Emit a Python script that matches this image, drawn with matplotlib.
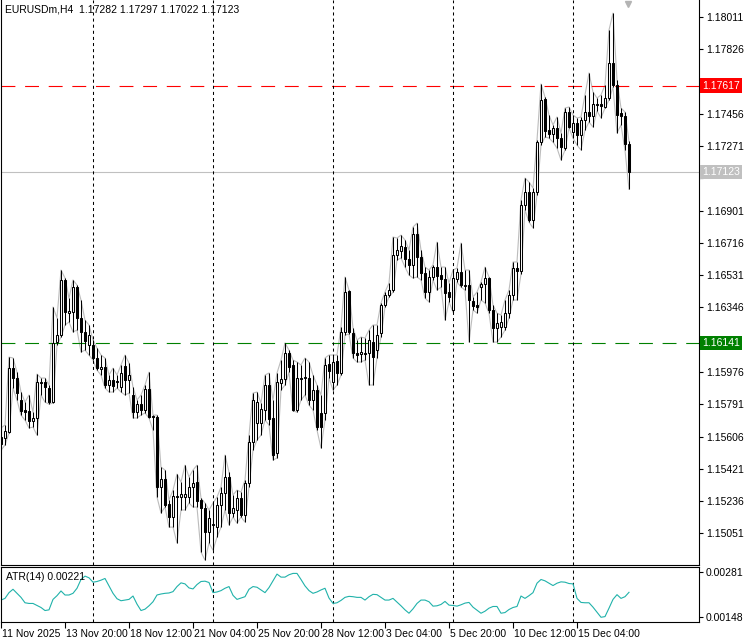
import numpy as np
import matplotlib
matplotlib.use("Agg")
import matplotlib.pyplot as plt
import matplotlib.transforms as mtransforms

plt.rcParams['font.family'] = ['Liberation Sans', 'DejaVu Sans']
plt.rcParams['lines.scale_dashes'] = False

# EURUSDm H4 bars, 11 Nov 04:00 .. 17 Dec 08:00
opens = [1.15603, 1.15597, 1.15632, 1.15998, 1.15941, 1.15815, 1.15758, 1.15752, 1.15695, 1.15712,
         1.15912, 1.15918, 1.15884, 1.15803, 1.16147, 1.16187, 1.16503, 1.16313, 1.16319, 1.16462,
         1.16285, 1.16205, 1.16130, 1.16130, 1.16056, 1.15993, 1.16004, 1.15901, 1.15930, 1.15924,
         1.15889, 1.16010, 1.15930, 1.15844, 1.15746, 1.15792, 1.15758, 1.15878, 1.15723, 1.15718,
         1.15316, 1.15362, 1.15219, 1.15145, 1.15265, 1.15259, 1.15259, 1.15259, 1.15316, 1.15345,
         1.15242, 1.15196, 1.15059, 1.15099, 1.15087, 1.15213, 1.15282, 1.15374, 1.15168, 1.15185,
         1.15253, 1.15156, 1.15339, 1.15574, 1.15683, 1.15683, 1.15758, 1.15901, 1.15712, 1.15511,
         1.15912, 1.15935, 1.16084, 1.16016, 1.15758, 1.15941, 1.15941, 1.15941, 1.15815, 1.15872,
         1.15741, 1.15741, 1.16021, 1.15918, 1.16038, 1.15970, 1.16205, 1.16440, 1.16199, 1.16084,
         1.16079, 1.16084, 1.16084, 1.16147, 1.16101, 1.16199, 1.16359, 1.16417, 1.16445, 1.16646,
         1.16669, 1.16692, 1.16623, 1.16589, 1.16766, 1.16634, 1.16543, 1.16434, 1.16520, 1.16577,
         1.16531, 1.16508, 1.16434, 1.16331, 1.16508, 1.16548, 1.16468, 1.16474, 1.16382, 1.16359,
         1.16462, 1.16480, 1.16514, 1.16331, 1.16228, 1.16233, 1.16233, 1.16313, 1.16417, 1.16571,
         1.16554, 1.16932, 1.17007, 1.16846, 1.17007, 1.17293, 1.17540, 1.17362, 1.17339, 1.17374,
         1.17316, 1.17259, 1.17465, 1.17351, 1.17402, 1.17333, 1.17419, 1.17465, 1.17442, 1.17511,
         1.17511, 1.17494, 1.17545, 1.17746, 1.17620, 1.17459, 1.17442, 1.17282]
highs = [1.15655, 1.15672, 1.16061, 1.16056, 1.15975, 1.15861, 1.15803, 1.15844, 1.15746, 1.15964,
         1.15941, 1.15941, 1.15901, 1.16348, 1.16285, 1.16560, 1.16514, 1.16399, 1.16503, 1.16474,
         1.16388, 1.16273, 1.16245, 1.16159, 1.16113, 1.16073, 1.16056, 1.15958, 1.15998, 1.15958,
         1.16016, 1.16073, 1.16027, 1.15889, 1.15815, 1.15844, 1.15901, 1.15975, 1.15729, 1.15729,
         1.15431, 1.15414, 1.15242, 1.15299, 1.15391, 1.15345, 1.15442, 1.15374, 1.15414, 1.15442,
         1.15253, 1.15225, 1.15185, 1.15225, 1.15259, 1.15316, 1.15500, 1.15402, 1.15271, 1.15299,
         1.15288, 1.15357, 1.15614, 1.15855, 1.15861, 1.15798, 1.15958, 1.15970, 1.15815, 1.15970,
         1.16044, 1.16142, 1.16101, 1.16044, 1.16033, 1.16016, 1.16056, 1.16033, 1.15958, 1.15901,
         1.15844, 1.16056, 1.16073, 1.16073, 1.16073, 1.16233, 1.16520, 1.16445, 1.16228, 1.16159,
         1.16176, 1.16170, 1.16216, 1.16245, 1.16245, 1.16371, 1.16434, 1.16485, 1.16749, 1.16743,
         1.16760, 1.16732, 1.16675, 1.16806, 1.16829, 1.16675, 1.16577, 1.16560, 1.16589, 1.16720,
         1.16577, 1.16577, 1.16485, 1.16560, 1.16571, 1.16715, 1.16560, 1.16560, 1.16405, 1.16434,
         1.16491, 1.16577, 1.16520, 1.16359, 1.16313, 1.16302, 1.16388, 1.16445, 1.16606, 1.16606,
         1.16961, 1.17087, 1.17064, 1.17030, 1.17305, 1.17626, 1.17551, 1.17448, 1.17391, 1.17437,
         1.17345, 1.17488, 1.17494, 1.17448, 1.17431, 1.17437, 1.17563, 1.17689, 1.17580, 1.17545,
         1.17563, 1.17620, 1.17935, 1.18032, 1.17649, 1.17488, 1.17465, 1.17297]
lows = [1.15528, 1.15557, 1.15626, 1.15884, 1.15815, 1.15729, 1.15700, 1.15655, 1.15660, 1.15614,
        1.15844, 1.15803, 1.15792, 1.15798, 1.16130, 1.16176, 1.16245, 1.16262, 1.16205, 1.16216,
        1.16090, 1.16101, 1.16073, 1.16044, 1.15987, 1.15958, 1.15884, 1.15861, 1.15861, 1.15884,
        1.15861, 1.15844, 1.15855, 1.15712, 1.15712, 1.15729, 1.15741, 1.15712, 1.15643, 1.15259,
        1.15168, 1.15202, 1.15087, 1.15087, 1.14996, 1.15185, 1.15185, 1.15225, 1.15202, 1.15202,
        1.14944, 1.14898, 1.14996, 1.14955, 1.15030, 1.15087, 1.15185, 1.15099, 1.15145, 1.15110,
        1.15145, 1.15116, 1.15316, 1.15529, 1.15586, 1.15614, 1.15700, 1.15672, 1.15471, 1.15483,
        1.15872, 1.15901, 1.15975, 1.15752, 1.15746, 1.15815, 1.15844, 1.15786, 1.15758, 1.15643,
        1.15540, 1.15700, 1.15941, 1.15872, 1.15901, 1.15958, 1.16187, 1.16193, 1.16056, 1.16033,
        1.16033, 1.16044, 1.15901, 1.15901, 1.16056, 1.16176, 1.16348, 1.16405, 1.16434, 1.16617,
        1.16629, 1.16577, 1.16531, 1.16514, 1.16520, 1.16503, 1.16399, 1.16377, 1.16503, 1.16445,
        1.16462, 1.16273, 1.16377, 1.16319, 1.16491, 1.16462, 1.16445, 1.16147, 1.16331, 1.16313,
        1.16388, 1.16371, 1.16313, 1.16147, 1.16147, 1.16176, 1.16216, 1.16285, 1.16388, 1.16388,
        1.16537, 1.16904, 1.16835, 1.16801, 1.16990, 1.17276, 1.17322, 1.17316, 1.17293, 1.17259,
        1.17190, 1.17247, 1.17374, 1.17316, 1.17276, 1.17247, 1.17362, 1.17408, 1.17379, 1.17471,
        1.17431, 1.17488, 1.17534, 1.17608, 1.17345, 1.17391, 1.17247, 1.17022]
closes = [1.15563, 1.15637, 1.15998, 1.15941, 1.15855, 1.15752, 1.15746, 1.15695, 1.15712, 1.15918,
          1.15918, 1.15889, 1.15803, 1.16142, 1.16187, 1.16503, 1.16319, 1.16325, 1.16462, 1.16285,
          1.16205, 1.16153, 1.16187, 1.16056, 1.15998, 1.16004, 1.15901, 1.15930, 1.15895, 1.15918,
          1.15970, 1.15930, 1.15958, 1.15746, 1.15792, 1.15758, 1.15878, 1.15718, 1.15718, 1.15316,
          1.15362, 1.15213, 1.15145, 1.15265, 1.15259, 1.15276, 1.15276, 1.15316, 1.15339, 1.15236,
          1.15196, 1.15059, 1.15139, 1.15104, 1.15213, 1.15282, 1.15374, 1.15168, 1.15196, 1.15253,
          1.15156, 1.15339, 1.15574, 1.15815, 1.15803, 1.15763, 1.15901, 1.15706, 1.15500, 1.15918,
          1.15935, 1.16084, 1.16004, 1.15758, 1.15941, 1.15935, 1.15947, 1.15815, 1.15872, 1.15660,
          1.15660, 1.16016, 1.15981, 1.16033, 1.15970, 1.16205, 1.16434, 1.16205, 1.16084, 1.16073,
          1.16090, 1.16079, 1.16159, 1.16061, 1.16187, 1.16359, 1.16417, 1.16445, 1.16646, 1.16675,
          1.16697, 1.16623, 1.16589, 1.16766, 1.16634, 1.16543, 1.16434, 1.16520, 1.16577, 1.16525,
          1.16508, 1.16428, 1.16405, 1.16514, 1.16548, 1.16474, 1.16474, 1.16388, 1.16354, 1.16348,
          1.16480, 1.16514, 1.16331, 1.16228, 1.16256, 1.16262, 1.16313, 1.16417, 1.16571, 1.16554,
          1.16932, 1.17007, 1.16846, 1.17007, 1.17293, 1.17534, 1.17356, 1.17339, 1.17374, 1.17316,
          1.17265, 1.17465, 1.17379, 1.17402, 1.17333, 1.17419, 1.17465, 1.17442, 1.17511, 1.17505,
          1.17500, 1.17545, 1.17746, 1.17620, 1.17448, 1.17442, 1.17282, 1.17123]

atr = [0.00198, 0.00203, 0.00220, 0.00230, 0.00218, 0.00206, 0.00190, 0.00188, 0.00188, 0.00182,
       0.00176, 0.00167, 0.00169, 0.00200, 0.00211, 0.00225, 0.00213, 0.00213, 0.00218, 0.00233,
       0.00259, 0.00269, 0.00264, 0.00251, 0.00253, 0.00257, 0.00262, 0.00240, 0.00218, 0.00202,
       0.00196, 0.00198, 0.00200, 0.00210, 0.00186, 0.00167, 0.00171, 0.00181, 0.00193, 0.00213,
       0.00216, 0.00218, 0.00219, 0.00223, 0.00238, 0.00249, 0.00246, 0.00234, 0.00231, 0.00244,
       0.00253, 0.00254, 0.00250, 0.00220, 0.00222, 0.00226, 0.00233, 0.00238, 0.00212, 0.00200,
       0.00204, 0.00208, 0.00230, 0.00238, 0.00236, 0.00228, 0.00220, 0.00235, 0.00255, 0.00275,
       0.00266, 0.00266, 0.00273, 0.00277, 0.00277, 0.00259, 0.00240, 0.00226, 0.00218, 0.00222,
       0.00228, 0.00233, 0.00204, 0.00188, 0.00190, 0.00197, 0.00206, 0.00209, 0.00208, 0.00206,
       0.00206, 0.00198, 0.00208, 0.00215, 0.00214, 0.00206, 0.00198, 0.00198, 0.00203, 0.00192,
       0.00181, 0.00169, 0.00159, 0.00172, 0.00188, 0.00198, 0.00198, 0.00193, 0.00180, 0.00181,
       0.00185, 0.00194, 0.00183, 0.00182, 0.00180, 0.00184, 0.00189, 0.00191, 0.00177, 0.00168,
       0.00159, 0.00165, 0.00174, 0.00179, 0.00179, 0.00159, 0.00161, 0.00170, 0.00176, 0.00179,
       0.00210, 0.00203, 0.00211, 0.00220, 0.00248, 0.00259, 0.00255, 0.00248, 0.00241, 0.00248,
       0.00252, 0.00251, 0.00247, 0.00246, 0.00203, 0.00191, 0.00190, 0.00190, 0.00177, 0.00162,
       0.00147, 0.00149, 0.00174, 0.00200, 0.00214, 0.00203, 0.00208, 0.00221]

price_ticks = [1.15051, 1.15236, 1.15421, 1.15606, 1.15791, 1.15976, 1.16161, 1.16346, 1.16531,
               1.16716, 1.16901, 1.17086, 1.17271, 1.17456, 1.17641, 1.17826, 1.18011]
atr_ticks = [0.00148, 0.00281]
date_pos = [0, 16, 32, 48, 64, 80, 96, 112, 128, 144]
date_labels = ['11 Nov 2025', '13 Nov 20:00', '18 Nov 12:00', '21 Nov 04:00', '25 Nov 20:00',
               '28 Nov 12:00', '3 Dec 04:00', '5 Dec 20:00', '10 Dec 12:00', '15 Dec 04:00']
week_starts = [23, 53, 83, 113, 143]   # Monday 00:00 bars

red_level = 1.17617
green_level = 1.16141
bid = 1.17123

W, H = 750, 644
fig = plt.figure(figsize=(W / 100, H / 100), dpi=100)
ax = fig.add_axes([1 / W, (H - 565) / H, 698 / W, 565 / H])
ax2 = fig.add_axes([1 / W, 22 / H, 698 / W, 55 / H])

o = np.array(opens); h = np.array(highs); l = np.array(lows); c = np.array(closes)
x = np.arange(len(c))
up = c >= o

# grey high / low envelope
ax.plot(x, h, color='#bcbcbc', lw=0.8, zorder=1)
ax.plot(x, l, color='#bcbcbc', lw=0.8, zorder=1)

# candles
ax.vlines(x, l, h, color='black', lw=0.75, zorder=3)
ax.bar(x, np.abs(c - o), bottom=np.minimum(o, c), width=0.5,
       color=np.where(up, 'white', 'black'), edgecolor='black', linewidth=0.75, zorder=4)

ax.axhline(red_level, color='#ff0000', lw=0.8, dashes=(10, 7), zorder=2)
ax.axhline(green_level, color='#008000', lw=0.8, dashes=(10, 7), zorder=2)
ax.axhline(bid, color='#c0c0c0', lw=0.8, zorder=2)
for w in week_starts:
    ax.axvline(w, color='black', lw=0.75, dashes=(2.2, 2.2), zorder=2)
    ax2.axvline(w, color='black', lw=0.75, dashes=(2.2, 2.2), zorder=2)

tags = [(red_level, '#ff0000'), (green_level, '#008000'), (bid, '#c0c0c0')]

ax.set_xlim(0, 174.5)
ax.set_ylim(1.14870, 1.18107)
ax.set_xticks([])
ax.yaxis.tick_right()
ax.set_yticks(price_ticks)
# labels sitting under a price tag are hidden by it on the terminal
ax.set_yticklabels(['' if any(abs(t - lv) < 0.0004 for lv, _ in tags) else f'{t:.5f}'
                    for t in price_ticks])
ax.tick_params(axis='y', direction='out', length=3, width=0.8, pad=2, labelsize=7.5)
ax.spines['top'].set_visible(False)
for s in ['left', 'right', 'bottom']:
    ax.spines[s].set_linewidth(0.8)

# price tags on the right axis
tr = mtransforms.blended_transform_factory(ax.transAxes, ax.transData)
shift = mtransforms.ScaledTranslation(3 / 100, 0, fig.dpi_scale_trans)
for lvl, col in tags:
    ax.text(1.0, lvl, f'{lvl:.5f}', transform=tr + shift, ha='left', va='center',
            color='white', fontsize=7.5, zorder=10, clip_on=False,
            bbox=dict(boxstyle='square,pad=0.2', fc=col, ec='none'))

# small marker at top right
ax.plot([156.75], [0.993], marker='v', color='#b4b4b4', ms=5,
        transform=mtransforms.blended_transform_factory(ax.transData, ax.transAxes),
        clip_on=False)

fig.text(5 / W, 1 - 9 / H, 'EURUSDm,H4  1.17282 1.17297 1.17022 1.17123',
         ha='left', va='center', fontsize=7.5)

# ATR panel
ax2.plot(x, atr, color='#20b2aa', lw=0.8)
ax2.set_xlim(0, 174.5)
ax2.set_ylim(0.00133, 0.00296)
ax2.yaxis.tick_right()
ax2.set_yticks(atr_ticks)
ax2.set_yticklabels([f'{t:.5f}' for t in atr_ticks])
ax2.tick_params(axis='y', direction='out', length=3, width=0.8, pad=2, labelsize=7.5)
ax2.set_xticks(date_pos)
ax2.set_xticklabels(date_labels)
ax2.tick_params(axis='x', direction='out', length=4, width=0.8, pad=1, labelsize=7.5)
xshift = mtransforms.ScaledTranslation(1.5 / 100, 0, fig.dpi_scale_trans)
for lab in ax2.get_xticklabels():
    lab.set_ha('left')
    lab.set_transform(lab.get_transform() + xshift)
for s in ax2.spines.values():
    s.set_linewidth(0.8)
ax2.text(5 / 698, 0.82, f'ATR(14) {atr[-1]:.5f}', transform=ax2.transAxes,
         ha='left', va='center', fontsize=7.5)

fig.savefig('out.png', dpi=100)
